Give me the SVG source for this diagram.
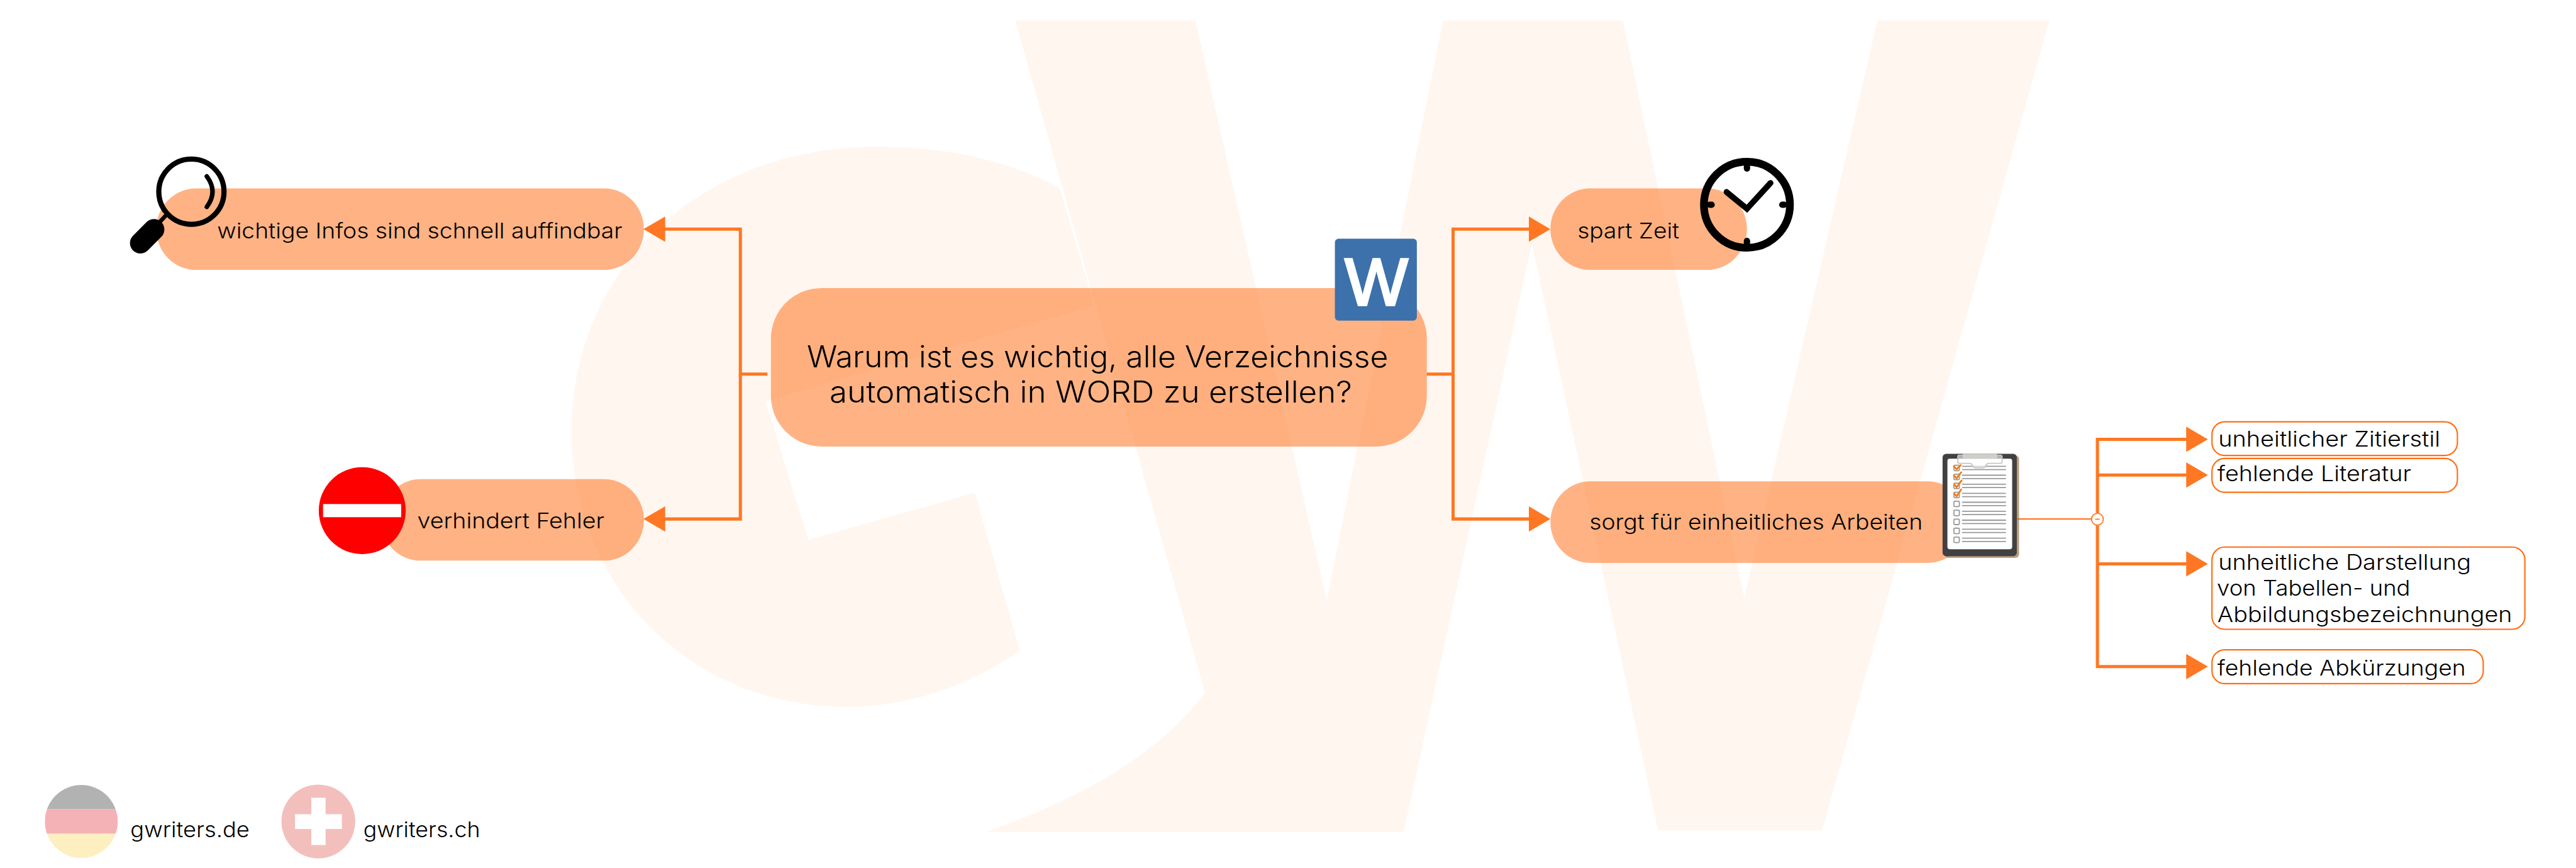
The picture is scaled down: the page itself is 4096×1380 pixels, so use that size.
<svg xmlns="http://www.w3.org/2000/svg" xmlns:xlink="http://www.w3.org/1999/xlink" width="4096" height="1380" viewBox="0 0 4096 1380">
<style>
text{font-family:"Inter","Liberation Sans",sans-serif;fill:#000;font-size:47px;font-weight:300}
.main{font-size:66px}
.pill{fill:#ff6709;fill-opacity:.5}
.conn{fill:none;stroke:#ff7722;stroke-width:7}
.thin{fill:none;stroke:#ff7722;stroke-width:3}
.box{fill:#fff;stroke:#ff6d12;stroke-width:3}
.ico{fill:none;stroke:#000;stroke-linecap:round}
.ln{stroke:#999;stroke-width:2.5}
.cb{fill:#fff;stroke:#999;stroke-width:2.5}
.ck{fill:none;stroke:#f57c14;stroke-width:4;stroke-linecap:round;stroke-linejoin:round}
</style>
<defs>
<marker id="arrow" markerUnits="userSpaceOnUse" markerWidth="48" markerHeight="56" refX="1" refY="28" orient="auto" viewBox="0 0 48 56"><path d="M0 0L48 28L0 56Z" fill="#ff7722"/></marker>
<g id="row"><rect class="cb" x="4315" y="-6" width="12" height="12" rx="2"/><path class="ln" d="M4333 -3.7H4430M4333 3.7H4430"/></g>
</defs>
<rect width="4096" height="1380" fill="#fff"/>
<g transform="scale(0.72)">
<g id="watermark" fill="#fff6f0">
<path d="M2340 415C2220 350 2080 324 1937 324C1540 324 1262 600 1262 954C1262 1290 1520 1561 1870 1561C2010 1561 2150 1510 2252 1436L2153 1088L1785 1192L1691 886L2417 675Z"/>
<path d="M2242 45H2640L2930 1326L3187 45H3584L3852 1320L4146 45H4526L4024 1834H3662L3383 537L3100 1837H2178Q2522 1716 2661 1530Z"/>
</g>
<g id="connectors">
<path class="conn" d="M1695 826H1635V506H1468" marker-end="url(#arrow)"/>
<path class="conn" d="M1635 826V1146H1468" marker-end="url(#arrow)"/>
<path class="conn" d="M3151 826H3209V506H3377" marker-end="url(#arrow)"/>
<path class="conn" d="M3209 826V1146H3377" marker-end="url(#arrow)"/>
<path class="thin" d="M4454 1146H4619"/>
<path class="conn" d="M4632 1133V970H4829" marker-end="url(#arrow)"/>
<path class="conn" d="M4632 1049H4829" marker-end="url(#arrow)"/>
<path class="conn" d="M4632 1160V1472H4829" marker-end="url(#arrow)"/>
<path class="conn" d="M4632 1245H4829" marker-end="url(#arrow)"/>
<circle cx="4632" cy="1146.5" r="13" fill="#fff" stroke="#ff7722" stroke-width="2.5"/>
<path d="M4627 1146.5H4637" stroke="#ff7722" stroke-width="2.5"/>
</g>
<g id="node-infos">
<rect class="pill" x="345" y="416" width="1077" height="180" rx="88" ry="90"/>
<g id="icon-magnifier">
<circle class="ico" cx="422.7" cy="423.3" r="72" stroke-width="11.5"/>
<path class="ico" d="M456.7 389.3Q482 423 456.7 456.7" stroke-width="10"/>
<path d="M365 477L353 490" class="ico" stroke-width="9"/>
<path d="M340 506.7L310 536.7" class="ico" stroke-width="46"/>
</g>
<text x="479.6" y="526" textLength="895" lengthAdjust="spacingAndGlyphs">wichtige Infos sind schnell auffindbar</text>
</g>
<g id="node-fehler">
<rect class="pill" x="841" y="1058" width="581" height="180" rx="88" ry="90"/>
<circle cx="800" cy="1127.5" r="96" fill="#f00"/>
<rect x="713.5" y="1113" width="172.5" height="29" fill="#fff"/>
<text x="921.6" y="1166" textLength="413" lengthAdjust="spacingAndGlyphs">verhindert Fehler</text>
</g>
<g id="node-main">
<rect class="pill" x="1702.5" y="636" width="1448.5" height="350" rx="112" ry="112"/>
<text class="main" x="1782" y="811" textLength="1284" lengthAdjust="spacingAndGlyphs">Warum ist es wichtig, alle Verzeichnisse</text>
<text class="main" x="1832" y="888.6" textLength="1154" lengthAdjust="spacingAndGlyphs">automatisch in WORD zu erstellen?</text>
<g id="icon-word">
<rect x="2948" y="527" width="181" height="181" rx="8" fill="#3c71ab"/>
<text x="2970" y="674" style="font-family:'Liberation Sans',sans-serif;font-size:146px;font-weight:400;fill:#fff;stroke:#fff;stroke-width:5" textLength="139" lengthAdjust="spacingAndGlyphs">W</text>
</g>
</g>
<g id="node-zeit">
<rect class="pill" x="3424" y="416" width="434" height="180" rx="88" ry="90"/>
<text x="3483.6" y="526" textLength="225" lengthAdjust="spacingAndGlyphs">spart Zeit</text>
<g id="icon-clock">
<circle class="ico" cx="3858" cy="452" r="95" stroke-width="17"/>
<path class="ico" stroke-width="14" d="M3858 368V372M3858 532V536M3776 452H3780M3936 452H3940"/>
<path class="ico" stroke-width="13" d="M3813 424L3858 461L3910 404"/>
</g>
</g>
<g id="node-einheitlich">
<rect class="pill" x="3424" y="1063" width="921" height="180" rx="88" ry="90"/>
<text x="3510" y="1170" textLength="736" lengthAdjust="spacingAndGlyphs">sorgt für einheitliches Arbeiten</text>
<g id="icon-clipboard">
<rect x="4295" y="1006" width="164" height="226" rx="8" fill="#a67c52" fill-opacity=".75"/>
<rect x="4290" y="1002" width="164" height="226" rx="8" fill="#414042"/>
<rect x="4300.7" y="1012.7" width="143" height="200" rx="5" fill="#fff"/>
<use xlink:href="#row" href="#row" y="1033.3"/><use xlink:href="#row" href="#row" y="1053"/><use xlink:href="#row" href="#row" y="1073"/><use xlink:href="#row" href="#row" y="1093"/><use xlink:href="#row" href="#row" y="1112.7"/><use xlink:href="#row" href="#row" y="1132.7"/><use xlink:href="#row" href="#row" y="1152.3"/><use xlink:href="#row" href="#row" y="1172.3"/><use xlink:href="#row" href="#row" y="1192"/>
<path d="M4327 1005H4418Q4421.5 1005 4421.5 1009V1020Q4421.5 1023 4418 1023H4392Q4388 1023 4386 1028Q4384 1033 4378 1033H4364Q4358 1033 4356 1028Q4354 1023 4350 1023H4327Q4323.5 1023 4323.5 1020V1009Q4323.5 1005 4327 1005Z" fill="#fff" fill-opacity=".6" stroke="#c6c6c2" stroke-width="2.5"/>
<rect x="4334" y="1002" width="77" height="10" rx="3" fill="#cfcfcb"/>
<path class="ck" d="M4315 1030L4321 1036L4330 1027M4315 1050L4321 1056L4331 1043M4316 1070L4321 1076L4332 1061M4316 1090L4321 1096L4331 1081"/>
</g>
</g>
<g id="leaf-zitierstil">
<rect class="box" x="4885" y="931.5" width="542" height="74.3" rx="28"/>
<text x="4899" y="985.5" textLength="490" lengthAdjust="spacingAndGlyphs">unheitlicher Zitierstil</text>
</g>
<g id="leaf-literatur">
<rect class="box" x="4885" y="1012.4" width="542" height="74.6" rx="28"/>
<text x="4897" y="1062.6" textLength="428" lengthAdjust="spacingAndGlyphs">fehlende Literatur</text>
</g>
<g id="leaf-darstellung">
<rect class="box" x="4885" y="1208" width="691" height="181.6" rx="28"/>
<text x="4899" y="1258" textLength="558" lengthAdjust="spacingAndGlyphs">unheitliche Darstellung</text>
<text x="4896" y="1315.8" textLength="427" lengthAdjust="spacingAndGlyphs">von Tabellen- und</text>
<text x="4897" y="1373" textLength="651" lengthAdjust="spacingAndGlyphs">Abbildungsbezeichnungen</text>
</g>
<g id="leaf-abkuerzungen">
<rect class="box" x="4885" y="1435" width="599" height="74.5" rx="28"/>
<text x="4897" y="1491" textLength="548.5" lengthAdjust="spacingAndGlyphs">fehlende Abkürzungen</text>
</g>
<g id="footer-de">
<clipPath id="de"><circle cx="179.5" cy="1814" r="80.5"/></clipPath>
<g clip-path="url(#de)">
<rect x="99" y="1733" width="161" height="54" fill="#b2b2b2"/>
<rect x="99" y="1787" width="161" height="54" fill="#f5b2b6"/>
<rect x="99" y="1841" width="161" height="54" fill="#fdefbf"/>
</g>
<text x="288" y="1848" textLength="263" lengthAdjust="spacingAndGlyphs">gwriters.de</text>
</g>
<g id="footer-ch">
<circle cx="703" cy="1814" r="81.5" fill="#f3bfbc"/>
<path d="M687.5 1761.5H719V1798H755V1830.4H719V1866H687.5V1830.4H651.6V1798H687.5Z" fill="#fff"/>
<text x="802.4" y="1848" textLength="258" lengthAdjust="spacingAndGlyphs">gwriters.ch</text>
</g>
</g>
</svg>
